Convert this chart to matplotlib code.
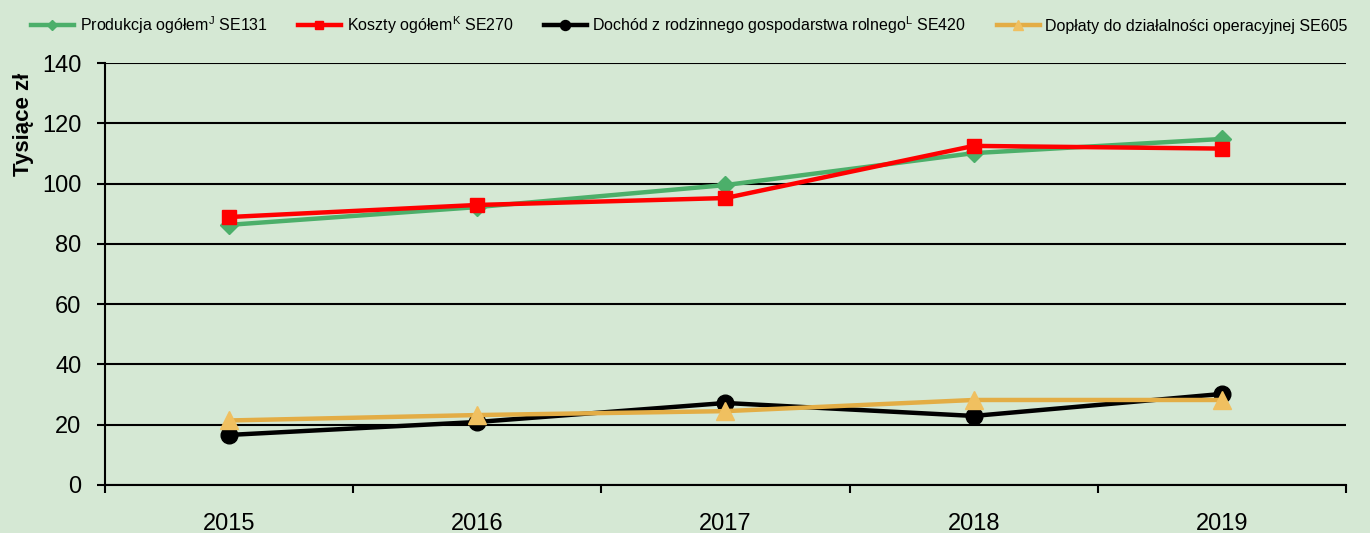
import matplotlib.pyplot as plt
import numpy as np

# dane
lata = ['2015', '2016', '2017', '2018', '2019']
produkcja = [86.3, 92.2, 99.5, 110.1, 114.8]
koszty = [88.9, 92.9, 95.2, 112.5, 111.6]
dochod = [16.6, 20.9, 27.2, 22.9, 30.2]
doplaty = [21.4, 23.2, 24.5, 28.2, 28.2]

plt.rcParams['font.family'] = ['Liberation Sans', 'DejaVu Sans']
plt.rcParams['mathtext.fontset'] = 'custom'
plt.rcParams['mathtext.rm'] = 'Liberation Sans'

tlo = '#d5e8d4'
fig = plt.figure(figsize=(13.7, 5.33), dpi=100, facecolor=tlo)
ax = fig.add_axes([0.0766, 0.0901, 0.9059, 0.7917], facecolor=tlo)

x = np.arange(len(lata))
ax.plot(x, produkcja, color='#4caf6a', lw=3.2, marker='D', ms=9, mec='#4caf6a',
        label=r'Produkcja ogółem$^{\mathrm{J}}$ SE131', zorder=3)
ax.plot(x, koszty, color='#ff0000', lw=3.2, marker='s', ms=10,
        label=r'Koszty ogółem$^{\mathrm{K}}$ SE270', zorder=4)
ax.plot(x, dochod, color='black', lw=3.2, marker='o', ms=12,
        label=r'Dochód z rodzinnego gospodarstwa rolnego$^{\mathrm{L}}$ SE420', zorder=3)
ax.plot(x, doplaty, color='#e3ad45', lw=3.2, marker='^', ms=13, mfc='#f0c060', mec='#f0c060',
        label='Dopłaty do działalności operacyjnej SE605', zorder=4)

ax.set_xlim(-0.5, 4.5)
ax.set_ylim(0, 140)
ax.set_yticks(range(0, 141, 20))
ax.tick_params(axis='y', labelsize=17, length=6, width=1.5, direction='out', pad=11)
ax.set_xticks(x)
ax.set_xticklabels(lata, fontsize=17)
ax.set_xticks(np.arange(-0.5, 4.6, 1), minor=True)
ax.tick_params(axis='x', which='major', length=0, pad=20)
ax.tick_params(axis='x', which='minor', length=6, width=1.5)
ax.grid(axis='y', color='black', lw=1.5)
ax.set_axisbelow(True)
for s in ['top', 'right']:
    ax.spines[s].set_visible(False)
ax.spines['left'].set_linewidth(1.5)
ax.spines['bottom'].set_linewidth(1.5)
ax.set_ylabel('Tysiące zł', fontsize=16, fontweight='bold')
ax.yaxis.set_label_coords(-0.057, 0.855)

fig.legend(loc='upper left', bbox_to_anchor=(0.012, 1.0), ncol=4, frameon=False,
           fontsize=11.5, handlelength=2.7, markerscale=0.6, columnspacing=1.9,
           handletextpad=0.35)

plt.savefig('out.png', dpi=100, facecolor=tlo)
